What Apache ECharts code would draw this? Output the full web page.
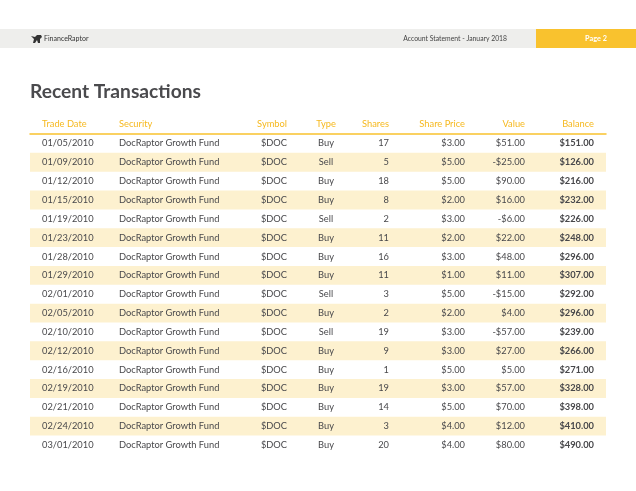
<!DOCTYPE html>
<html>
	<head>
		<meta charset="utf-8">
		<script type="text/javascript" src="https://cdn.jsdelivr.net/npm/echarts@6/dist/echarts.min.js"></script>
		<style>
			html, body { margin: 0; padding: 0; background: #fff; }
		</style>
	</head>
	<body>
		<div id="main" style="width:636px;height:491px;"></div>

		<script type="text/javascript">
			// table data, one array per column
			var tradeDates = ['01/05/2010', '01/09/2010', '01/12/2010', '01/15/2010', '01/19/2010', '01/23/2010', '01/28/2010', '01/29/2010', '02/01/2010',
				'02/05/2010', '02/10/2010', '02/12/2010', '02/16/2010', '02/19/2010', '02/21/2010', '02/24/2010', '03/01/2010'];
			var security = 'DocRaptor Growth Fund';
			var symbol = '$DOC';
			var types = ['Buy', 'Sell', 'Buy', 'Buy', 'Sell', 'Buy', 'Buy', 'Buy', 'Sell', 'Buy', 'Sell', 'Buy', 'Buy', 'Buy', 'Buy', 'Buy', 'Buy'];
			var shares = [17, 5, 18, 8, 2, 11, 16, 11, 3, 2, 19, 9, 1, 19, 14, 3, 20];
			var sharePrices = [3, 5, 5, 2, 3, 2, 3, 1, 5, 2, 3, 3, 5, 3, 5, 4, 4];
			var values = [51, -25, 90, 16, -6, 22, 48, 11, -15, 4, -57, 27, 5, 57, 70, 12, 80];
			var balances = [151, 126, 216, 232, 226, 248, 296, 307, 292, 296, 239, 266, 271, 328, 398, 410, 490];
			var headers = ['Trade Date', 'Security', 'Symbol', 'Type', 'Shares', 'Share Price', 'Value', 'Balance'];

			// column anchors on the x axis (0 = left edge of table) and alignment
			var colPos = [12, 89, 257, 296, 359, 435, 495, 564];
			var colAlign = ['left', 'left', 'right', 'center', 'right', 'right', 'right', 'right'];

			var FONT = 'Lato';
			var TEXT = '#48484b';
			var GOLD = '#f9c22e';

			function money(v) {
				return (v < 0 ? '-$' : '$') + Math.abs(v).toFixed(2);
			}

			function cellTexts(i) {
				return [tradeDates[i], security, symbol, types[i], String(shares[i]),
					money(sharePrices[i]), money(values[i]), money(balances[i])];
			}

			var myChart = echarts.init(document.getElementById('main'), null, { renderer: 'canvas' });

			var option = {
				animation: false,
				title: {
					// zero-width non-joiner keeps Lato from using its "ti" ligature
					text: 'Recent Transac\u200Ctions',
					left: 25,
					top: 77,
					textStyle: { fontFamily: FONT, fontSize: 19.2, fontWeight: 'bold', color: '#4a4a4d' }
				},
				graphic: [
					{ type: 'rect', shape: { x: 0, y: 29, width: 636, height: 19 }, style: { fill: '#eeeeec' } },
					{ type: 'rect', shape: { x: 536, y: 29, width: 100, height: 19 }, style: { fill: GOLD } },
					{ type: 'polygon', shape: { points: [[31, 36], [35, 37], [37, 35], [41, 35], [42, 37], [40, 39], [40, 43], [38, 43], [37, 40], [35, 43], [33, 43], [34, 39]] }, style: { fill: '#333' } },
					{ type: 'text', x: 44, y: 38.5, style: { text: 'FinanceRaptor', fontFamily: FONT, fontSize: 7, fill: '#333', verticalAlign: 'middle' } },
					{ type: 'text', x: 507, y: 38.5, style: { text: 'Account Statement - January 2018', fontFamily: FONT, fontSize: 6.8, fill: '#444', align: 'right', verticalAlign: 'middle' } },
					{ type: 'text', x: 596, y: 38.5, style: { text: 'Page 2', fontFamily: FONT, fontSize: 7.3, fontWeight: 'bold', fill: '#fff', align: 'center', verticalAlign: 'middle' } }
				],
				grid: {
					left: 30,
					right: 30,
					top: 134,
					height: 17 * 18.85
				},
				xAxis: {
					type: 'value',
					position: 'top',
					min: 0,
					max: 576,
					axisLine: { show: true, onZero: false, lineStyle: { color: GOLD, width: 1.5 } },
					axisTick: { show: false },
					axisLabel: { show: false },
					splitLine: { show: false }
				},
				yAxis: {
					type: 'category',
					inverse: true,
					data: tradeDates,
					axisLine: { show: false },
					axisTick: { show: false },
					axisLabel: { show: false },
					splitLine: { show: false }
				},
				series: [{
					type: 'custom',
					clip: false,
					data: tradeDates.map(function (d, i) { return [0, i]; }),
					renderItem: function (params, api) {
						var i = params.dataIndex;
						var p = api.coord([0, i]);
						var right = api.coord([576, i])[0];
						var h = api.size([0, 1])[1];
						var children = [];
						if (i % 2 === 1) {
							children.push({
								type: 'rect',
								shape: { x: p[0], y: p[1] - h / 2, width: right - p[0], height: h },
								style: { fill: '#fdf1cf' }
							});
						}
						var cells = cellTexts(i);
						for (var c = 0; c < cells.length; c++) {
							var x = api.coord([colPos[c], i])[0];
							children.push({
								type: 'text',
								x: x,
								y: p[1],
								style: {
									text: cells[c],
									fontFamily: FONT,
									fontSize: 9.3,
									fontWeight: c === 7 ? 'bold' : 'normal',
									fill: TEXT,
									align: colAlign[c],
									verticalAlign: 'middle'
								}
							});
							// header row sits one band above the first row
							if (i === 0) {
								children.push({
									type: 'text',
									x: x,
									y: p[1] - h - 0.5,
									style: {
										text: headers[c],
										fontFamily: FONT,
										fontSize: 9.3,
										fill: '#f6b91f',
										align: colAlign[c],
										verticalAlign: 'middle'
									}
								});
							}
						}
						return { type: 'group', children: children };
					}
				}]
			};

			myChart.setOption(option);
		</script>
	</body>
</html>
